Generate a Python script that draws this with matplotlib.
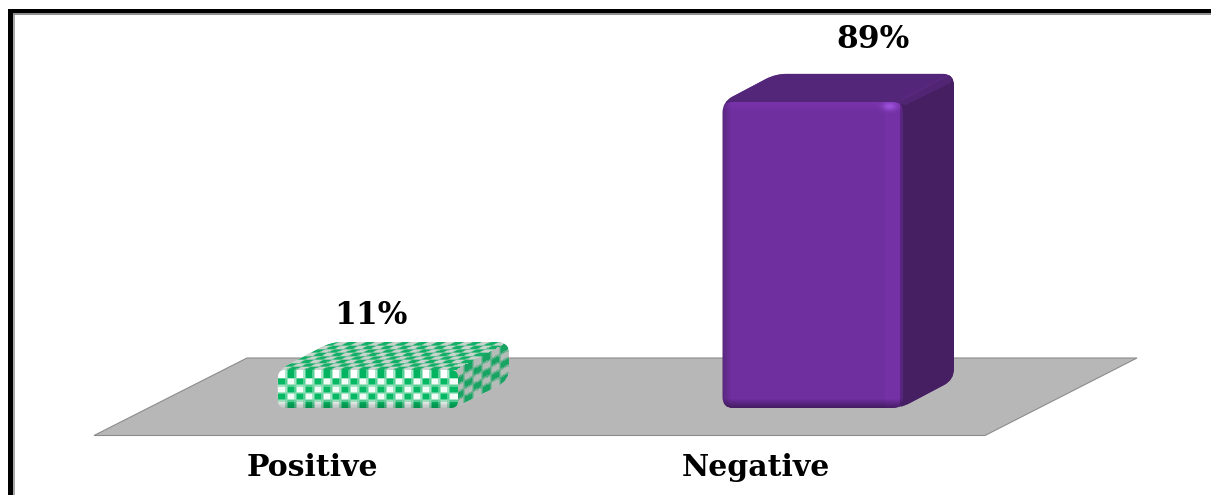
import numpy as np
import matplotlib
matplotlib.use("Agg")
import matplotlib.pyplot as plt
from matplotlib.path import Path
from matplotlib.patches import PathPatch, Polygon, Rectangle
from matplotlib.transforms import IdentityTransform

categories = ["Positive", "Negative"]
values = [11, 89]
value_labels = ["11%", "89%"]

W, H = 1211, 495
BASE_Y = 408        # pixel row of the value axis zero
PX_PER_PCT = 3.44
FIRST_CX = 366.5    # pixel column of the first bar centre
STEP = 445
HALF_W = 89
DEPTH = (53, 28)    # oblique depth of the boxes, in pixels
VALUE_OFFSETS = [(4.5, 55), (61.5, 62)]
CATEGORY_OFFSETS = [(-54.5, -59), (-55.5, -59)]
CORNER_RADII = [12, 11]
FRONT_RADII = [7, 10]

fig = plt.figure(figsize=(W / 100, H / 100), dpi=100, facecolor="white")
ax = fig.add_axes([0, 0, 1, 1])
ax.set_xlim((0 - FIRST_CX) / STEP, (W - FIRST_CX) / STEP)
ax.set_ylim((BASE_Y - H) / PX_PER_PCT, BASE_Y / PX_PER_PCT)
ax.set_autoscale_on(False)
ax.axis("off")
IDENT = IdentityTransform()


def flip(x, y):
    return (x, H - y)


def rounded(corners, r):
    """Closed path through the corners, with each corner eased by radius r."""
    pts = np.asarray(corners, float)
    n = len(pts)
    verts, codes = [], []
    for k in range(n):
        p, a, b = pts[k], pts[k - 1], pts[(k + 1) % n]
        u = (a - p) / np.linalg.norm(a - p)
        v = (b - p) / np.linalg.norm(b - p)
        verts += [p + u * r, p, p + v * r]
        codes += [Path.LINETO if k else Path.MOVETO, Path.CURVE3, Path.CURVE3]
    verts.append(verts[0])
    codes.append(Path.CLOSEPOLY)
    return Path(verts, codes)


def textured(rgb, origin, e1, e2, clip, z):
    """Paint an RGB grid on the parallelogram origin + u*e1 + v*e2, clipped to a path."""
    rows, cols = rgb.shape[:2]
    u, v = np.meshgrid(np.linspace(0, 1, cols + 1), np.linspace(0, 1, rows + 1))
    X = origin[0] + u * e1[0] + v * e2[0]
    Y = origin[1] + u * e1[1] + v * e2[1]
    mesh = ax.pcolormesh(X, Y, rgb, transform=IDENT, shading="flat", zorder=z,
                         antialiased=False, linewidth=0)
    mesh.set_clip_path(PathPatch(clip, transform=IDENT))


def hex_rgb(c):
    return np.array(matplotlib.colors.to_rgb(c))


def box_blur(a, size):
    """Separable box filter, used to soften the checker cells."""
    k = np.ones(size) / size
    pad = size // 2
    for axis in (0, 1):
        a = np.apply_along_axis(
            lambda r: np.convolve(np.pad(r, pad, mode="edge"), k, "valid"), axis, a)
    return a


def checker(nu, nv, c1, c2, su=8, sv=6, blur=3):
    a = np.kron(np.indices((nv, nu)).sum(0) % 2, np.ones((sv, su)))
    a = box_blur(a, blur)[..., None]
    return a * hex_rgb(c1) + (1 - a) * hex_rgb(c2)


def edge_ramp(n, w, start, end):
    """Shade multipliers along an axis: start/end at the borders, 1 in the middle."""
    d = np.arange(n, dtype=float)
    out = np.ones(n)
    lo = d < w
    hi = d > n - 1 - w
    out[lo] = start + (1 - start) * (d[lo] / w)
    out[hi] = end + (1 - end) * ((n - 1 - d[hi]) / w)
    return out


# Frame: heavy black rule with a soft grey inner line, open on the right and below
ax.add_patch(Rectangle(flip(8, 495), 5, 486, transform=IDENT, color="black", lw=0, zorder=1))
ax.add_patch(Rectangle(flip(8, 13), W - 8, 4, transform=IDENT, color="black", lw=0, zorder=1))
ax.add_patch(Rectangle(flip(13, 495), 2, 482, transform=IDENT, color="#a8a8a8", lw=0, zorder=1))
ax.add_patch(Rectangle(flip(13, 15), W - 13, 2, transform=IDENT, color="#8f8f8f", lw=0, zorder=1))

# Floor plane
floor = [flip(247, 358), flip(1137, 358), flip(985, 435.5), flip(94, 435.5)]
ax.add_patch(Polygon(floor, closed=True, transform=IDENT,
                     facecolor="#b7b7b7", edgecolor="#8c8c8c", lw=0.8, zorder=2))

for i, (cat, val, lab) in enumerate(zip(categories, values, value_labels)):
    (x0, y0), (x1, y1) = ax.transData.transform([(i - HALF_W / STEP, 0),
                                                 (i + HALF_W / STEP, val)])
    dx, dy = DEPTH
    w, h = x1 - x0, y1 - y0
    silhouette = rounded([(x0, y0), (x1, y0), (x1 + dx, y0 + dy),
                          (x1 + dx, y1 + dy), (x0 + dx, y1 + dy), (x0, y1)], CORNER_RADII[i])
    front_clip = rounded([(x0, y0), (x1 + 2, y0), (x1 + 2, y1), (x0, y1)], FRONT_RADII[i])

    if cat == "Positive":
        top = checker(20, 8, "#12b066", "#c9d3cd")
        side = checker(6, 5, "#17a463", "#b4bcb7")
        face = checker(20, 5, "#05b863", "#f4fbf7")
        rows = face.shape[0]
        # bright rim across the top of the front face
        rim = checker(20, 1, "#00b45f", "#ffffff")
        face[-rim.shape[0]:] = rim
        shade = edge_ramp(rows, 6, 0.78, 1.0)[:, None, None]
        face = np.clip(face * shade, 0, 1)
    else:
        top = np.ones((2, 2, 3)) * hex_rgb("#53267a")
        side = np.ones((2, 2, 3)) * hex_rgb("#461e62")
        base = hex_rgb("#6f2f9f")
        rows, cols = int(h), int(w + 2)
        vshade = edge_ramp(rows, 9, 0.62, 1.08)
        hshade = edge_ramp(cols, 8, 0.82, 1.0)
        face = np.outer(vshade, hshade)[..., None] * base
        # raised band where the front turns into the side
        face[:, cols - 18:cols - 3] = np.clip(face[:, cols - 18:cols - 3] * 1.04, 0, 1)
        face[:, cols - 3:] *= 0.8
        # specular dot at the top right corner of the front
        yy, xx = np.mgrid[0:rows, 0:cols]
        glow = np.exp(-(((xx - (cols - 14)) / 7.0) ** 2 + ((yy - (rows - 5)) / 4.0) ** 2))
        face = np.clip(face + glow[..., None] * np.array([0.14, 0.12, 0.18]), 0, 1)

    ax.add_patch(PathPatch(silhouette, facecolor=top[0, 0], edgecolor="none", zorder=3, transform=IDENT))
    textured(top, (x0, y1), (w, 0), (dx, dy), silhouette, 4)
    textured(side, (x1, y0), (dx, dy), (0, h), silhouette, 5)
    if cat == "Negative":
        # light ridge along the edge between top and side
        ax.plot([x1 + 4, x1 + dx - 6], [y1 + 1, y1 + dy - 6], color="#5a2a80", lw=6,
                solid_capstyle="round", alpha=0.6, transform=IDENT, zorder=6)
    textured(face, (x0, y0), (w + 2, 0), (0, h), front_clip, 7)

    # Value above the box, category below the floor
    ax.annotate(lab, xy=(i, val), xytext=VALUE_OFFSETS[i],
                textcoords="offset pixels", ha="center", va="center",
                family="DejaVu Serif", weight="bold", fontsize=22.5, color="black", zorder=8)
    ax.annotate(cat, xy=(i, 0), xytext=CATEGORY_OFFSETS[i],
                textcoords="offset pixels", ha="center", va="center",
                family="DejaVu Serif", weight="bold", fontsize=21.5, color="black", zorder=8)

fig.savefig("out.png", dpi=100, facecolor="white")
